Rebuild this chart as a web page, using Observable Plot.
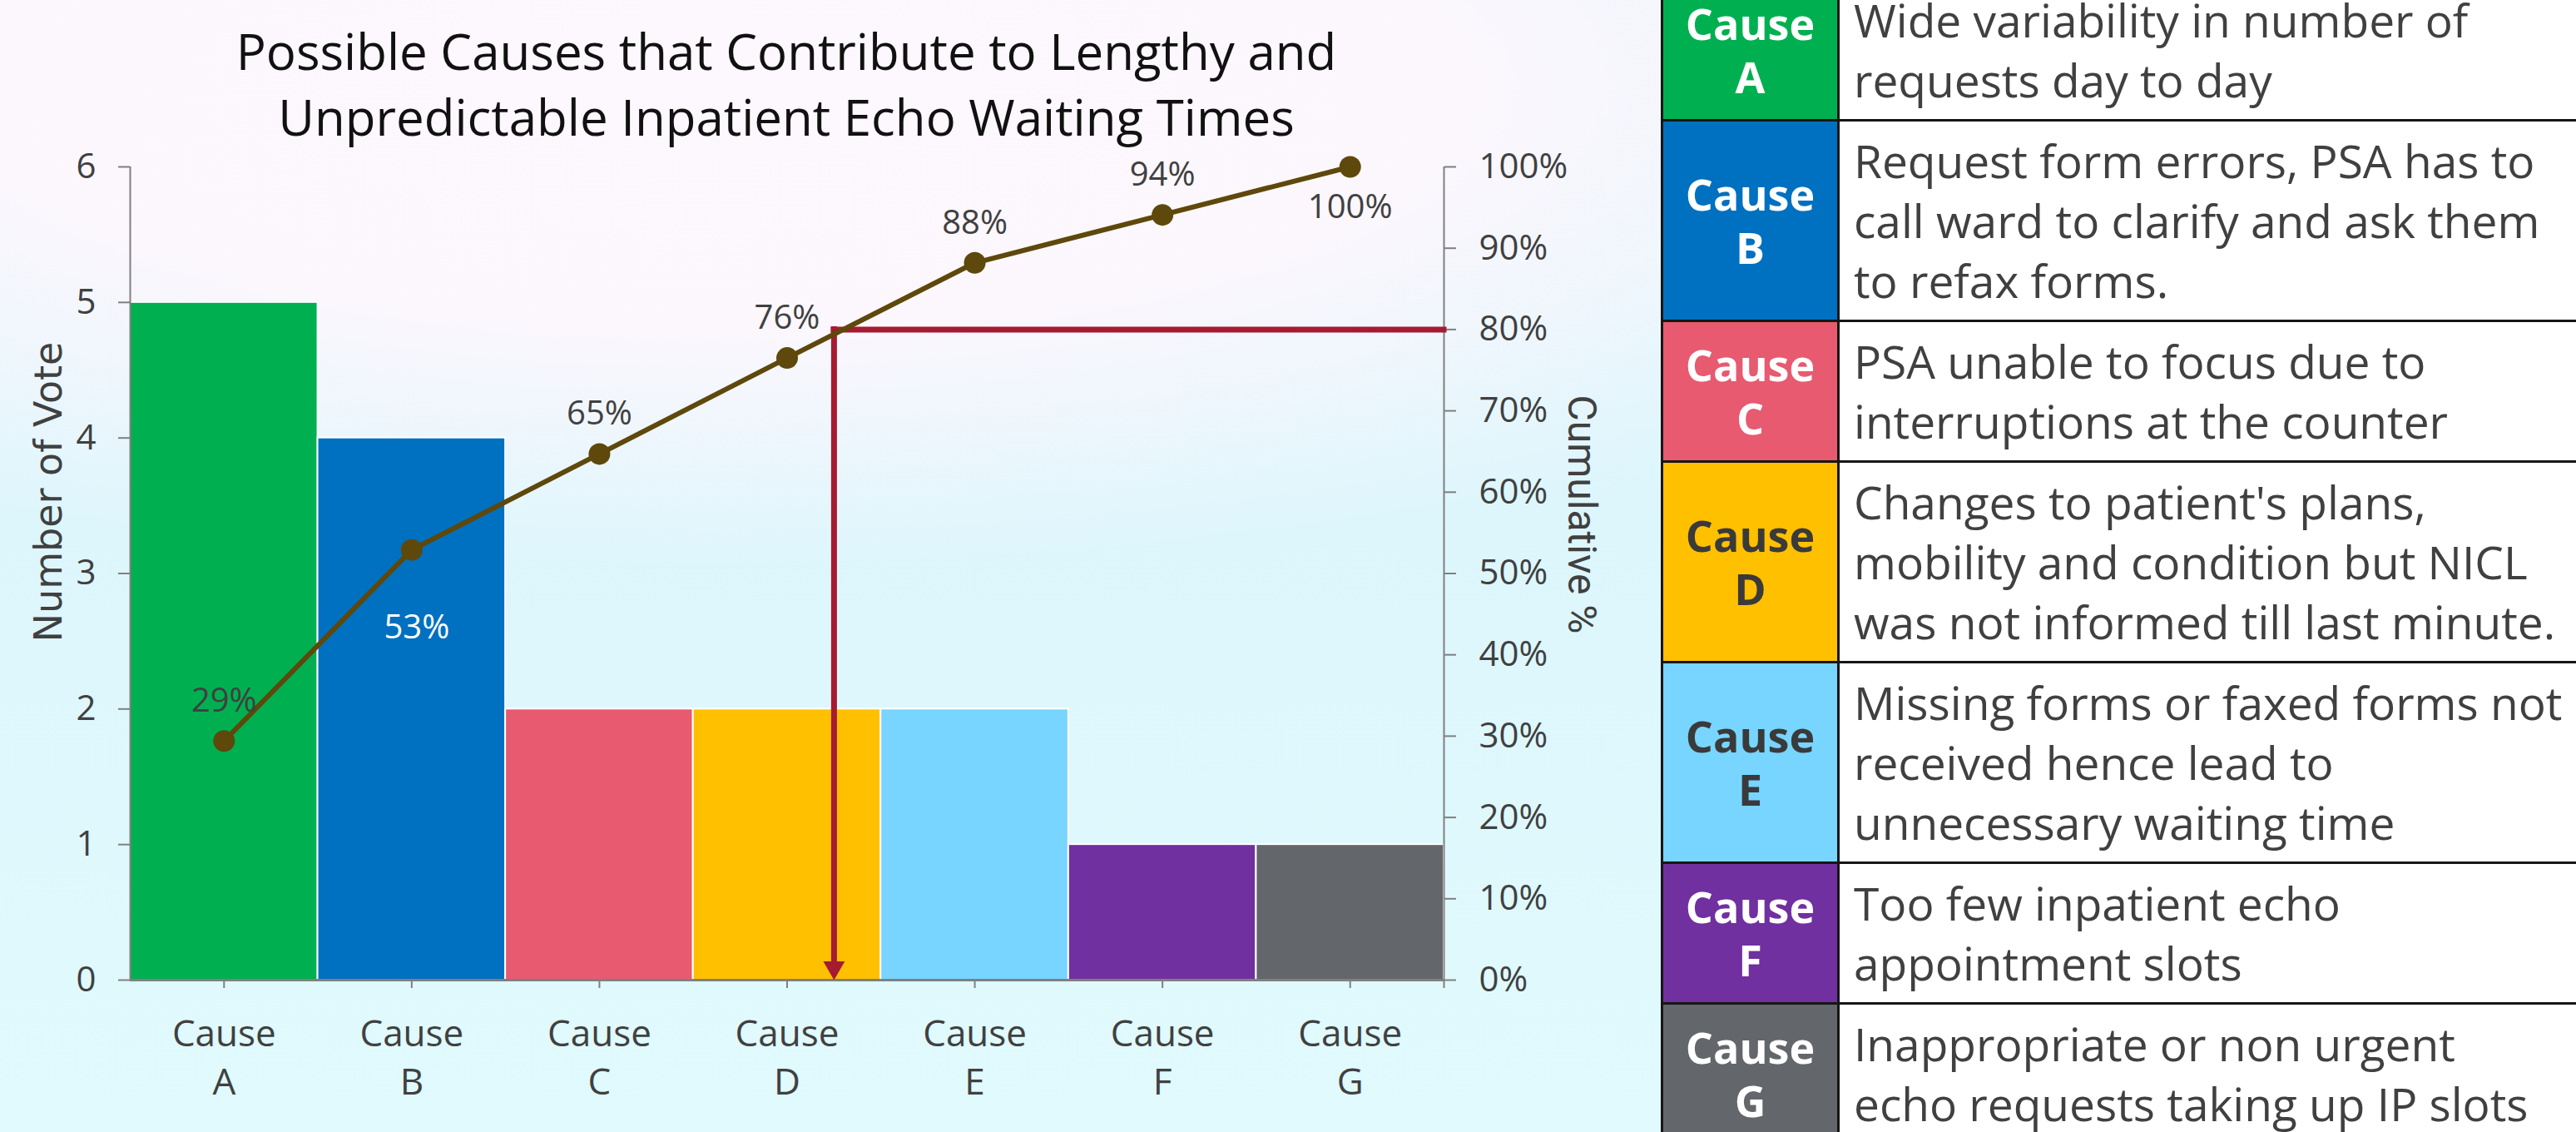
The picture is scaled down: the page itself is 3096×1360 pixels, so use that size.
<!DOCTYPE html>
<html>
<head>
<meta charset="utf-8">
<script src="https://cdn.jsdelivr.net/npm/d3@7"></script>
<script src="https://cdn.jsdelivr.net/npm/@observablehq/plot@0.6"></script>
<style>
  html, body { margin: 0; padding: 0; }
  body {
    width: 3096px; height: 1360px; overflow: hidden; position: relative;
    background:
      radial-gradient(ellipse 58% 42% at 28% 8%, #fdf8fd 0%, #fbf7fd 50%, rgba(250,247,253,0) 100%),
      linear-gradient(180deg, #e4f5fc 0%, #ddf6fc 45%, #e0fafd 100%);
  }
  #chart { position: absolute; left: 0; top: 0; width: 1990px; }
  #title {
    box-sizing: border-box; height: 170px; width: 1890px; padding-top: 22px;
    text-align: center; font-family: "Open Sans", sans-serif; font-size: 60px; line-height: 79px; color: #111;
  }
  #legend {
    position: absolute; left: 1996px; top: -26px; width: 1120px;
    border-collapse: collapse; font-family: "Open Sans", sans-serif;
  }
  #legend td { border: 3px solid #161616; vertical-align: middle; }
  #legend td.key {
    width: 209px; text-align: center; font-weight: 700; font-size: 52px; line-height: 64px; padding: 0;
  }
  #legend td.desc {
    background: #ffffff; color: #404040; font-size: 55px; line-height: 72px;
    padding: 11px 10px 11px 17px; white-space: pre-line;
  }
</style>
</head>
<body>
<div id="chart">
  <div id="title"></div>
  <div id="plot"></div>
</div>
<table id="legend"></table>
<script>
// ---------------- data ----------------
const titleLines = ["Possible Causes that Contribute to Lengthy and", "Unpredictable Inpatient Echo Waiting Times"];
const causes = ["A", "B", "C", "D", "E", "F", "G"];
const votes = [5, 4, 2, 2, 2, 1, 1];
const cumulativePct = [29.4, 52.9, 64.7, 76.5, 88.2, 94.1, 100];
const pctLabels = ["29%", "53%", "65%", "76%", "88%", "94%", "100%"];
const barColors = ["#00B050", "#0070C0", "#E75A70", "#FFC000", "#77D5FF", "#7030A0", "#63666A"];
const keyTextColors = ["#ffffff", "#ffffff", "#ffffff", "#3a3a3a", "#3a3a3a", "#ffffff", "#ffffff"];
const descriptions = [
  "Wide variability in number of\nrequests day to day",
  "Request form errors, PSA has to\ncall ward to clarify and ask them\nto refax forms.",
  "PSA unable to focus due to\ninterruptions at the counter",
  "Changes to patient's plans,\nmobility and condition but NICL\nwas not informed till last minute.",
  "Missing forms or faxed forms not\nreceived hence lead to\nunnecessary waiting time",
  "Too few inpatient echo\nappointment slots",
  "Inappropriate or non urgent\necho requests taking up IP slots"
];
const voteTicks = [0, 1, 2, 3, 4, 5, 6];
const pctTicks = [0, 10, 20, 30, 40, 50, 60, 70, 80, 90, 100];
const paretoThreshold = 80;          // %
const thresholdCrossing = 3.75;      // position on the cause axis (in cause widths) where the red marker drops
const yLabel = "Number of Vote";
const y2Label = "Cumulative %";

// ---------------- style config ----------------
const labelPlacement = ["above", "inside", "above", "above", "above", "above", "below"];
const lineColor = "#5E480B";
const redColor = "#A51B31";
const axisGray = "#808080";
const textGray = "#404040";

// ---------------- title ----------------
document.getElementById("title").innerHTML = titleLines.join("<br>");

// ---------------- plot ----------------
const yMax = d3.max(voteTicks);
const toY = p => p / 100 * yMax;
const n = causes.length;
const rows = causes.map((c, i) => ({
  cause: c, i, votes: votes[i], pct: cumulativePct[i], label: pctLabels[i], color: barColors[i], place: labelPlacement[i]
}));
const cx = d => d.i + 0.5;
const cy = d => toY(d.pct);

const chart = Plot.plot({
  width: 1990,
  height: 1190,
  marginTop: 30,
  marginBottom: 183,
  marginLeft: 156,
  marginRight: 255,
  style: { fontFamily: "'Open Sans', sans-serif", fontSize: "42px", color: textGray, background: "transparent", overflow: "visible" },
  x: { type: "linear", domain: [0, n] },
  y: { domain: [0, yMax] },
  color: { type: "identity" },
  marks: [
    Plot.rect(rows, { x1: "i", x2: d => d.i + 1, y1: 0, y2: "votes", fill: "color", stroke: "white", strokeWidth: 2 }),
    Plot.ruleX([0], { y1: 0, y2: yMax, stroke: axisGray, strokeWidth: 2 }),
    Plot.ruleX([n], { y1: 0, y2: yMax, stroke: axisGray, strokeWidth: 2 }),
    Plot.ruleY([0], { x1: 0, x2: n, stroke: axisGray, strokeWidth: 3 }),
    Plot.axisY(voteTicks, { anchor: "left", tickSize: 14, tickPadding: 27, stroke: axisGray, strokeWidth: 2, fill: textGray, fontSize: 42,
      tickFormat: d => String(d), label: null }),
    Plot.axisY(pctTicks.map(toY), { anchor: "right", tickSize: 14, tickPadding: 28, stroke: axisGray, strokeWidth: 2, fill: textGray, fontSize: 42,
      tickFormat: d => Math.round(d / yMax * 100) + "%", label: null }),
    Plot.axisX([...causes.map((_, i) => i + 0.5), n], { anchor: "bottom", tickSize: 10, tickPadding: 28, stroke: axisGray, strokeWidth: 2,
      fill: textGray, fontSize: 44, lineHeight: 1.32, label: null,
      tickFormat: d => { const i = Math.floor(d); return i < n ? "Cause\n" + causes[i] : ""; } }),
    // 80% Pareto marker
    Plot.ruleY([toY(paretoThreshold)], { x1: thresholdCrossing, x2: n, stroke: redColor, strokeWidth: 7, strokeLinecap: "square" }),
    Plot.ruleX([thresholdCrossing], { y1: toY(paretoThreshold), y2: 0, stroke: redColor, strokeWidth: 7, strokeLinecap: "square", insetBottom: 20 }),
    Plot.dot([thresholdCrossing], { x: d => d, y: 0, symbol: "triangle", rotate: 180, r: 9.6, fill: redColor, stroke: "none", dy: -15 }),
    // cumulative line
    Plot.line(rows, { x: cx, y: cy, stroke: lineColor, strokeWidth: 6 }),
    Plot.dot(rows, { x: cx, y: cy, r: 13, fill: lineColor, stroke: "none" }),
    Plot.text(rows, { filter: d => d.place === "above", x: cx, y: cy, text: "label", dy: -48, fontSize: 40, fill: textGray }),
    Plot.text(rows, { filter: d => d.place === "below", x: cx, y: cy, text: "label", dy: 49, fontSize: 40, fill: textGray }),
    Plot.text(rows, { filter: d => d.place === "inside", x: cx, y: cy, text: "label", dy: 94, dx: 6, fontSize: 40, fill: "white" }),
    // axis titles
    Plot.text([yLabel], { frameAnchor: "left", rotate: -90, dx: -97, dy: -98, textAnchor: "middle", lineAnchor: "middle",
      fontFamily: "DejaVu Sans", fontSize: 46, fill: textGray }),
    Plot.text([y2Label], { frameAnchor: "right", rotate: 90, dx: 165, dy: -71, textAnchor: "middle", lineAnchor: "middle",
      fontFamily: "Roboto", fontSize: 48, fill: textGray })
  ]
});
document.getElementById("plot").appendChild(chart);

// ---------------- legend table ----------------
const table = d3.select("#legend");
const tr = table.selectAll("tr").data(causes).join("tr");
tr.append("td").attr("class", "key")
  .style("background", (d, i) => barColors[i])
  .style("color", (d, i) => keyTextColors[i])
  .html(d => "Cause<br>" + d);
tr.append("td").attr("class", "desc").text((d, i) => descriptions[i]);
</script>
</body>
</html>
